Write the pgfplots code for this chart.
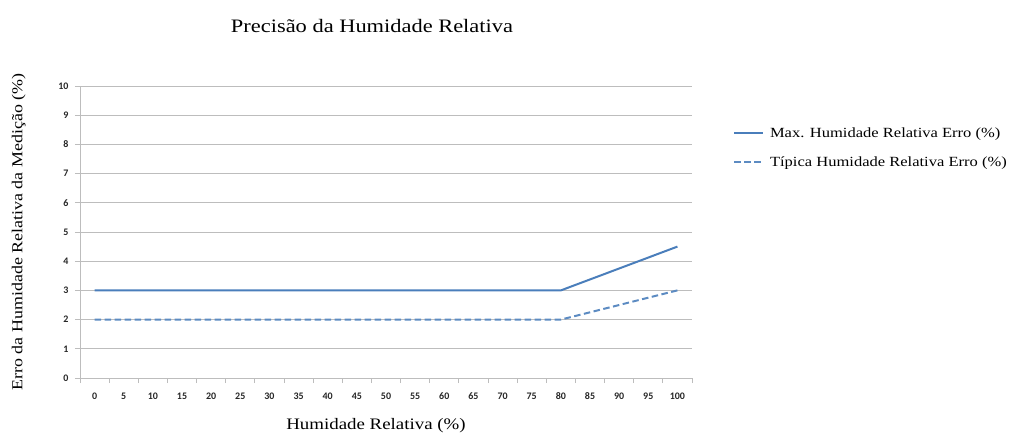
\documentclass[border=0pt]{standalone}
\usepackage{pgfplots}
\pgfplotsset{compat=1.18}
\usepackage{fontspec}
\setmainfont{Liberation Serif}[FakeStretch=1.18]
\newfontfamily\tickfont{Carlito}
\definecolor{xlblue}{HTML}{4A7EBB}
\definecolor{gridc}{HTML}{BDBDBD}
\begin{document}
\begin{tikzpicture}
\useasboundingbox (-80bp,-55bp) rectangle (951bp,378bp);
\begin{axis}[
    scale only axis, width=612bp, height=292bp,
    xmin=-0.5, xmax=20.5, ymin=0, ymax=10,
    axis x line=bottom, axis y line=left,
    axis line style={gridc, line width=0.9pt, -},
    xtick={0,...,20},
    xticklabels={0,5,10,15,20,25,30,35,40,45,50,55,60,65,70,75,80,85,90,95,100},
    minor xtick={-0.5,0.5,...,20.5},
    major x tick style={draw=none},
    minor x tick style={gridc, line width=0.9pt},
    minor tick length=5bp,
    ytick={0,...,10},
    y tick style={gridc, line width=0.9pt},
    major tick length=5bp,
    tick align=outside,
    ymajorgrids, grid style={gridc, line width=1pt},
    /pgf/number format/assume math mode=true,
    tick label style={font=\tickfont\bfseries\fontsize{10bp}{11bp}\selectfont, text=black!85},
    xticklabel style={yshift=-6bp},
    yticklabel style={xshift=-3bp},
    xlabel={Humidade Relativa (\%)},
    xlabel style={font=\fontsize{16bp}{18bp}\selectfont, yshift=-12bp, xshift=-10bp},
    ylabel={Erro da Humidade Relativa da Medição (\%)},
    ylabel style={font=\fontsize{15.2bp}{17bp}\selectfont, yshift=26bp},
    title={Precisão da Humidade Relativa},
    title style={font=\fontsize{19bp}{21bp}\selectfont, yshift=44bp, xshift=-14bp},
    legend cell align=left,
    legend style={draw=none, fill=none, at={(1.062,0.872)}, anchor=north west,
      font=\fontsize{14bp}{16bp}\selectfont, row sep=14bp,
      nodes={inner xsep=6bp}},
    clip=false]
  \addplot[xlblue, line width=2pt,
    legend image code/.code={\draw[xlblue, line width=2pt] (0cm,0cm) -- (1.02cm,0cm);}]
    coordinates {
    (0,3) (1,3) (2,3) (3,3) (4,3) (5,3) (6,3) (7,3) (8,3) (9,3) (10,3)
    (11,3) (12,3) (13,3) (14,3) (15,3) (16,3) (20,4.5)};
  \addlegendentry{Max. Humidade Relativa Erro (\%)}
  \addplot[xlblue!90, line width=2pt, dash pattern=on 6.5bp off 3.5bp,
    legend image code/.code={\draw[xlblue!90, line width=2pt, dash pattern=on 6.5bp off 3.5bp] (0cm,0cm) -- (1.02cm,0cm);}]
    coordinates {
    (0,2) (1,2) (2,2) (3,2) (4,2) (5,2) (6,2) (7,2) (8,2) (9,2) (10,2)
    (11,2) (12,2) (13,2) (14,2) (15,2) (16,2) (20,3)};
  \addlegendentry{Típica Humidade Relativa Erro (\%)}
\end{axis}
\end{tikzpicture}
\end{document}
